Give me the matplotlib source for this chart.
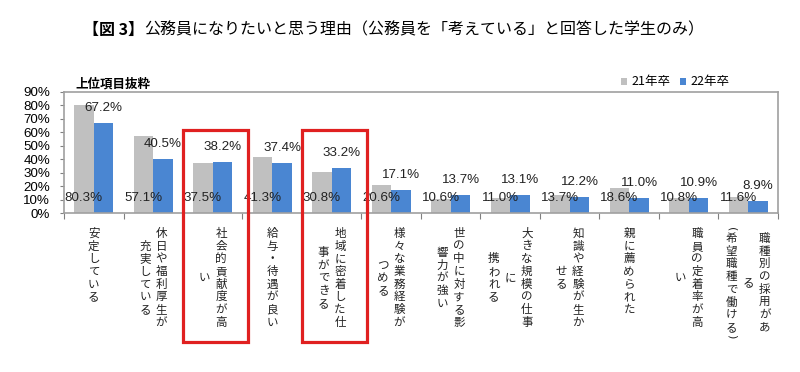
import matplotlib
matplotlib.use("Agg")
import matplotlib.pyplot as plt
import numpy as np
from matplotlib.patches import Rectangle
from matplotlib.transforms import blended_transform_factory

plt.rcParams['font.family'] = ['Noto Sans CJK JP', 'DejaVu Sans']

# ---- data ----
# each category label given as its vertical columns, right-to-left
categories = [
    ["安定している"],
    ["休日や福利厚生が", "充実している"],
    ["社会的貢献度が高", "い"],
    ["給与・待遇が良い"],
    ["地域に密着した仕", "事ができる"],
    ["様々な業務経験が", "つめる"],
    ["世の中に対する影", "響力が強い"],
    ["大きな規模の仕事", "に", "携われる"],
    ["知識や経験が生か", "せる"],
    ["親に薦められた"],
    ["職員の定着率が高", "い"],
    ["職種別の採用があ", "る", "(希望職種で働ける)"],
]
series_names = ["21年卒", "22年卒"]
values_21 = [80.3, 57.1, 37.5, 41.3, 30.8, 20.6, 10.6, 11.0, 13.7, 18.6, 10.8, 11.6]
values_22 = [67.2, 40.5, 38.2, 37.4, 33.2, 17.1, 13.7, 13.1, 12.2, 11.0, 10.9, 8.9]
yticks = [0, 10, 20, 30, 40, 50, 60, 70, 80, 90]
highlighted = [2, 4]

title_bold = "【図 3】"
title_rest = "公務員になりたいと思う理由（公務員を「考えている」と回答した学生のみ）"
subtitle = "上位項目抜粋"

gray = "#c0c0c0"
blue = "#4a86d2"
W, H = 800, 372

fig = plt.figure(figsize=(W / 100, H / 100), dpi=100)
ax = fig.add_axes([64 / W, 1 - 213 / H, 714 / W, 121 / H])

x = np.arange(len(categories))
bw = 0.33
ax.bar(x - bw / 2, values_21, bw, color=gray, label=series_names[0], zorder=2)
ax.bar(x + bw / 2, values_22, bw, color=blue, label=series_names[1], zorder=2)

ax.set_xlim(-0.5, len(categories) - 0.5)
ax.set_ylim(0, 90)
ax.set_yticks(yticks)
ax.set_yticklabels([f"{v}%" for v in yticks], fontfamily='Liberation Sans', fontsize=9.6)
ax.tick_params(axis='y', length=3, width=0.8, color='#808080', pad=7)
ax.set_xticks(np.arange(-0.5, len(categories), 1))
ax.set_xticklabels([])
ax.tick_params(axis='x', length=4, width=0.8, color='#808080')
for s in ax.spines.values():
    s.set_color('#a0a0a0')
    s.set_linewidth(1.2)

# data labels
lab_font = dict(fontfamily='Liberation Sans', fontsize=9.6, color='#222222')
for i, (a, b) in enumerate(zip(values_21, values_22)):
    ax.annotate(f"{a:.1f}%", xy=(i - bw / 2, 0), xytext=(0, 15), textcoords='offset pixels',
                ha='center', va='center', zorder=3, **lab_font)
    ax.annotate(f"{b:.1f}%", xy=(i + bw / 2, b), xytext=(0, 15), textcoords='offset pixels',
                ha='center', va='center', zorder=3, **lab_font)

# vertical Japanese category labels (columns right-to-left, centred vertically)
pitch = 12.7
col_gap = 16.5
top_px = H - 227
parens = {"(", ")"}
ph = 0.4
def col_len(s):
    return sum(ph if c in parens else 1.0 for c in s)
for i, cols in enumerate(categories):
    n = len(cols)
    L = max(col_len(c) for c in cols)
    for j, col in enumerate(cols):
        dx = ((n - 1) / 2 - j) * col_gap
        y = top_px - (L - col_len(col)) / 2 * pitch
        for ch in col:
            h = ph if ch in parens else 1.0
            kw = dict(rotation=-90, fontfamily='DejaVu Sans', fontsize=8) if ch in parens else dict(fontsize=8.3)
            ax.annotate(ch, xy=(i, y - h * pitch / 2), xycoords=('data', 'figure pixels'),
                        xytext=(dx, 0), textcoords='offset pixels',
                        ha='center', va='center', color='#222222',
                        annotation_clip=False, rotation_mode='anchor' if ch in parens else 'default', **kw)
            y -= h * pitch

# highlight boxes
tr = blended_transform_factory(ax.transData, fig.transFigure)
for k in highlighted:
    fig.add_artist(Rectangle((k - 0.5, 1 - 342 / H), 1.1, (342 - 130) / H, transform=tr,
                             fill=False, edgecolor='#e02020', linewidth=2.3))

# legend
leg = fig.legend(loc='center right', bbox_to_anchor=(729 / W, 1 - 82 / H), ncol=2,
                 frameon=False, handlelength=0.5, handleheight=0.5, handletextpad=0.3,
                 columnspacing=0.8, borderpad=0, borderaxespad=0, fontsize=9)

fig.text(75 / W, 1 - 84 / H, subtitle, fontsize=9, fontweight='bold', va='center', ha='left')

# title
t1 = fig.text(83 / W, 1 - 30 / H, title_bold, fontsize=11.5, fontweight='bold', va='center', ha='left')
fig.canvas.draw()
bb = t1.get_window_extent(fig.canvas.get_renderer())
fig.text(bb.x1 / W, 1 - 30 / H, title_rest, fontsize=11.5, va='center', ha='left')

fig.savefig("out.png", dpi=100)
